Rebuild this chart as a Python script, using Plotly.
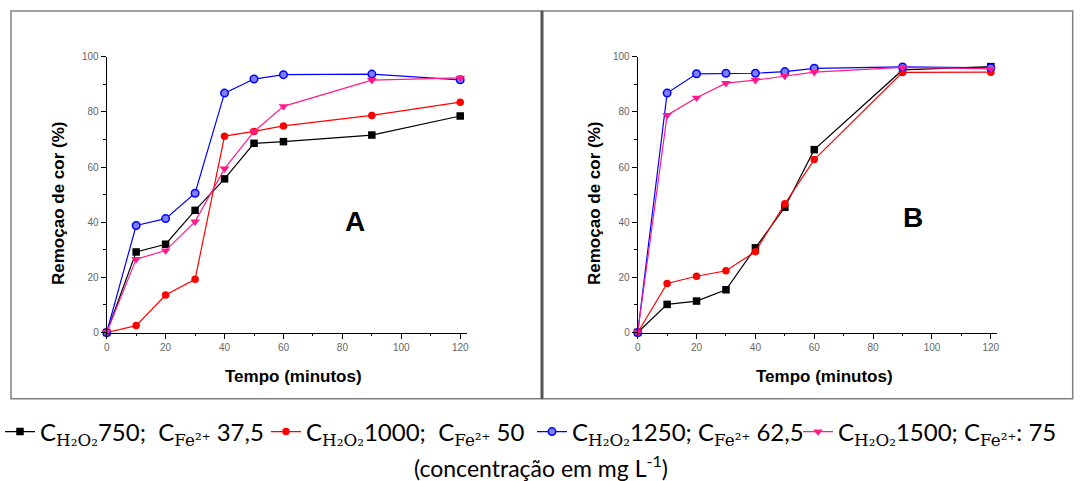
import plotly.graph_objects as go

W, H = 1083, 481

# ---- data ----
tempo = [0, 10, 20, 30, 40, 50, 60, 90, 120]

a_750 = [0, 29.2, 32.0, 44.3, 55.7, 68.6, 69.2, 71.6, 78.5]
a_1000 = [0, 2.5, 13.6, 19.3, 71.2, 72.9, 74.9, 78.7, 83.5]
a_1250 = [0, 38.8, 41.3, 50.5, 86.8, 91.9, 93.5, 93.7, 91.6]
a_1500 = [0, 26.6, 29.7, 40.2, 59.4, 72.9, 82.0, 91.5, 92.3]

b_750 = [0, 10.2, 11.4, 15.5, 30.7, 45.4, 66.3, 95.2, 96.4]
b_1000 = [0, 17.8, 20.4, 22.4, 29.3, 46.7, 62.7, 94.3, 94.4]
b_1250 = [0, 86.8, 93.8, 94.0, 94.0, 94.6, 95.8, 96.3, 96.0]
b_1500 = [0, 78.8, 85.1, 90.4, 91.5, 93.0, 94.4, 96.1, 95.6]

c_h2o2 = ["750", "1000", "1250", "1500"]
c_fe = ["37,5", "50", "62,5", ": 75"]
sep = ["\u00a0\u00a0", "\u00a0\u00a0", " ", " "]
colors = ["#000000", "#ff0000", "#0000ff", "#ff1a8c"]
symbols = ["square", "circle", "circle", "triangle-down"]
sizes = [7.5, 7.5, 7.5, 8.5]

x_ticks = [0, 20, 40, 60, 80, 100, 120]
y_ticks = [0, 20, 40, 60, 80, 100]

SERIF = "DejaVu Serif"
def label(i):
    sub1 = f'<sub><span style="font-family:{SERIF}">H₂O₂</span></sub>'
    sub2 = f'<sub><span style="font-family:{SERIF}">Fe²⁺</span></sub>'
    fe = c_fe[i]
    tail = fe if fe.startswith(":") else " " + fe
    return f"C{sub1}{c_h2o2[i]};{sep[i]}C{sub2}{tail}"

fig = go.Figure()

panel_a = [a_750, a_1000, a_1250, a_1500]
panel_b = [b_750, b_1000, b_1250, b_1500]

def marker(i):
    if i == 2:
        return dict(symbol="circle", size=sizes[i], color="#7f7fff", line=dict(color=colors[i], width=1.5))
    return dict(symbol=symbols[i], size=sizes[i], color=colors[i])

for i, ys in enumerate(panel_a):
    fig.add_trace(go.Scatter(
        x=tempo, y=ys, mode="lines+markers", name=label(i),
        line=dict(color=colors[i], width=1.2), marker=marker(i),
        xaxis="x", yaxis="y", cliponaxis=False, showlegend=True,
    ))
for i, ys in enumerate(panel_b):
    fig.add_trace(go.Scatter(
        x=tempo, y=ys, mode="lines+markers", name=label(i),
        line=dict(color=colors[i], width=1.2), marker=marker(i),
        xaxis="x2", yaxis="y2", cliponaxis=False, showlegend=False,
    ))

tickfont = dict(family="Liberation Sans, Arial", size=10, color="#666666")
ydom = [(H - 332.5) / H, (H - 56.7) / H]

def xaxis(dom, anchor):
    return dict(domain=dom, anchor=anchor, range=[0, 122.2], tickvals=x_ticks,
                ticks="outside", ticklen=5, tickwidth=1, tickcolor="black",
                minor=dict(dtick=10, tick0=0, ticks="outside", ticklen=2.5, tickcolor="black"),
                showline=True, linecolor="black", linewidth=1, showgrid=False,
                zeroline=False, tickfont=tickfont, fixedrange=True)

def yaxis(anchor):
    return dict(domain=ydom, anchor=anchor, range=[0, 100], tickvals=y_ticks,
                ticks="outside", ticklen=5, tickwidth=1, tickcolor="black",
                minor=dict(dtick=10, tick0=0, ticks="outside", ticklen=2.5, tickcolor="black"),
                showline=True, linecolor="black", linewidth=1, showgrid=False,
                zeroline=False, tickfont=tickfont, fixedrange=True)

titlefont = dict(family="Liberation Sans, Arial", size=17, color="black")

annotations = []
for xc_y, xc_x in [(58, 293), (594, 824)]:
    annotations.append(dict(text="<b>Remoçao de cor (%)</b>", xref="paper", yref="paper",
                            x=xc_y / W, y=(H - 204) / H, textangle=-90, showarrow=False,
                            xanchor="center", yanchor="middle", font=titlefont))
    annotations.append(dict(text="<b>Tempo (minutos)</b>", xref="paper", yref="paper",
                            x=xc_x / W, y=(H - 376) / H, showarrow=False,
                            xanchor="center", yanchor="middle", font=titlefont))

bigfont = dict(family="Liberation Sans, Arial", size=28, color="black")
annotations.append(dict(text="<b>A</b>", xref="x", yref="y", x=84.3, y=40.1,
                        showarrow=False, font=bigfont))
annotations.append(dict(text="<b>B</b>", xref="x2", yref="y2", x=93.4, y=41.6,
                        showarrow=False, font=bigfont))
annotations.append(dict(text="(concentração em mg L<sup>-1</sup>)", xref="paper", yref="paper",
                        x=541 / W, y=(H - 466) / H, showarrow=False,
                        xanchor="center", yanchor="middle",
                        font=dict(family="Lato", size=23, color="black")))

frame = dict(color="#808080", width=1.5)
shapes = [
    dict(type="rect", xref="paper", yref="paper", x0=11 / W, x1=542 / W,
         y0=(H - 398.7) / H, y1=(H - 11) / H, line=frame, layer="below"),
    dict(type="rect", xref="paper", yref="paper", x0=542 / W, x1=1072.7 / W,
         y0=(H - 398.7) / H, y1=(H - 11) / H, line=frame, layer="below"),
    dict(type="line", xref="paper", yref="paper", x0=542 / W, x1=542 / W,
         y0=(H - 398.7) / H, y1=(H - 11) / H, line=dict(color="#555555", width=3), layer="below"),
]

fig.update_layout(
    width=W, height=H, margin=dict(l=0, r=0, t=0, b=0, autoexpand=False),
    paper_bgcolor="white", plot_bgcolor="white",
    xaxis=xaxis([106.7 / W, 466.7 / W], "y"),
    yaxis=yaxis("x"),
    xaxis2=xaxis([637.7 / W, 997.3 / W], "y2"),
    yaxis2=yaxis("x2"),
    annotations=annotations, shapes=shapes,
    legend=dict(orientation="h", x=0, xanchor="left", y=(H - 432) / H, yanchor="middle",
                font=dict(family="Lato", size=24, color="black"),
                bgcolor="rgba(0,0,0,0)", borderwidth=0, itemclick=False,
                entrywidth=221, entrywidthmode="pixels", tracegroupgap=0),
    showlegend=True,
)

fig.write_html("out.html", config={"displayModeBar": False},
               post_script="document.body.style.margin='0';document.body.style.overflow='hidden';")
